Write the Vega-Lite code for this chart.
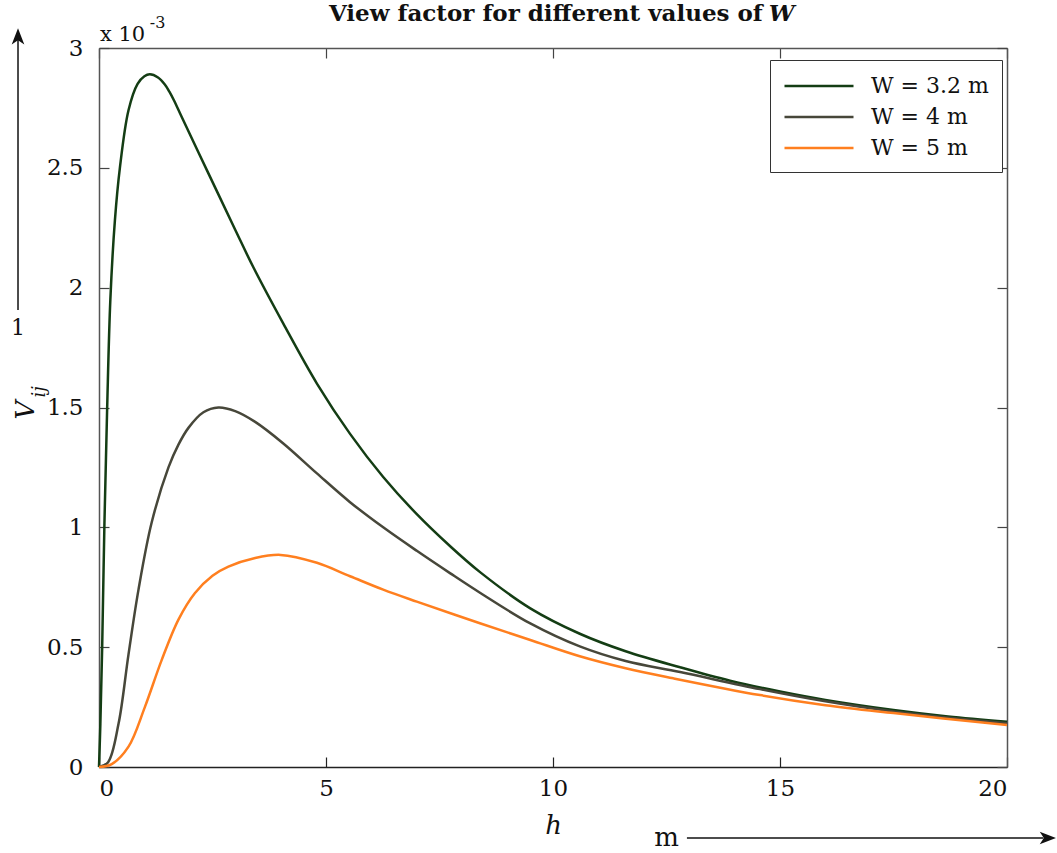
{
  "$schema": "https://vega.github.io/schema/vega-lite/v6.json",
  "width": 908,
  "height": 719,
  "autosize": "none",
  "padding": {"left": 99, "top": 48, "right": 50, "bottom": 86},
  "background": "white",
  "config": {
    "view": {"stroke": null},
    "font": "DejaVu Serif",
    "axis": {"grid": false, "labelFont": "DejaVu Serif", "labelFontSize": 23, "labelColor": "#111"}
  },
  "data": {
    "values": [
      {"W": "3.2", "h": 0, "V": 0},
      {"W": "3.2", "h": 0.03, "V": 0.00018},
      {"W": "3.2", "h": 0.07, "V": 0.0005},
      {"W": "3.2", "h": 0.12, "V": 0.00102},
      {"W": "3.2", "h": 0.18, "V": 0.0015},
      {"W": "3.2", "h": 0.25, "V": 0.00195},
      {"W": "3.2", "h": 0.35, "V": 0.00228},
      {"W": "3.2", "h": 0.46, "V": 0.0025},
      {"W": "3.2", "h": 0.65, "V": 0.00274},
      {"W": "3.2", "h": 0.85, "V": 0.00285},
      {"W": "3.2", "h": 1.0, "V": 0.002882},
      {"W": "3.2", "h": 1.12, "V": 0.00289},
      {"W": "3.2", "h": 1.3, "V": 0.002877},
      {"W": "3.2", "h": 1.45, "V": 0.002848},
      {"W": "3.2", "h": 1.55, "V": 0.002818},
      {"W": "3.2", "h": 1.65, "V": 0.002782},
      {"W": "3.2", "h": 1.82, "V": 0.002713},
      {"W": "3.2", "h": 2.41, "V": 0.002477},
      {"W": "3.2", "h": 3.0, "V": 0.002242},
      {"W": "3.2", "h": 3.4, "V": 0.002085},
      {"W": "3.2", "h": 4.06, "V": 0.00185},
      {"W": "3.2", "h": 4.8, "V": 0.0016},
      {"W": "3.2", "h": 5.53, "V": 0.00139},
      {"W": "3.2", "h": 6.26, "V": 0.00121},
      {"W": "3.2", "h": 7.0, "V": 0.001055},
      {"W": "3.2", "h": 7.73, "V": 0.000922},
      {"W": "3.2", "h": 8.4, "V": 0.000812},
      {"W": "3.2", "h": 9.5, "V": 0.000662},
      {"W": "3.2", "h": 10.59, "V": 0.000556},
      {"W": "3.2", "h": 11.6, "V": 0.000483},
      {"W": "3.2", "h": 12.8, "V": 0.000416},
      {"W": "3.2", "h": 13.9, "V": 0.00036},
      {"W": "3.2", "h": 15.0, "V": 0.000315},
      {"W": "3.2", "h": 16.0, "V": 0.00028},
      {"W": "3.2", "h": 17.5, "V": 0.000238},
      {"W": "3.2", "h": 18.7, "V": 0.000211},
      {"W": "3.2", "h": 20.0, "V": 0.000189},
      {"W": "4", "h": 0, "V": 0},
      {"W": "4", "h": 0.2, "V": 0.00002},
      {"W": "4", "h": 0.43, "V": 0.00018},
      {"W": "4", "h": 0.65, "V": 0.00047},
      {"W": "4", "h": 0.87, "V": 0.00074},
      {"W": "4", "h": 1.16, "V": 0.00102},
      {"W": "4", "h": 1.53, "V": 0.00125},
      {"W": "4", "h": 1.75, "V": 0.001345},
      {"W": "4", "h": 1.97, "V": 0.001415},
      {"W": "4", "h": 2.3, "V": 0.00148},
      {"W": "4", "h": 2.63, "V": 0.0015},
      {"W": "4", "h": 3.0, "V": 0.001485},
      {"W": "4", "h": 3.44, "V": 0.00144},
      {"W": "4", "h": 4.06, "V": 0.00135},
      {"W": "4", "h": 4.8, "V": 0.001225},
      {"W": "4", "h": 5.53, "V": 0.001105},
      {"W": "4", "h": 6.26, "V": 0.001},
      {"W": "4", "h": 7.0, "V": 0.000902},
      {"W": "4", "h": 7.73, "V": 0.000809},
      {"W": "4", "h": 8.4, "V": 0.000726},
      {"W": "4", "h": 9.5, "V": 0.000599},
      {"W": "4", "h": 10.59, "V": 0.000503},
      {"W": "4", "h": 11.6, "V": 0.000442},
      {"W": "4", "h": 12.8, "V": 0.000396},
      {"W": "4", "h": 14.56, "V": 0.000325},
      {"W": "4", "h": 16.0, "V": 0.000274},
      {"W": "4", "h": 17.5, "V": 0.000232},
      {"W": "4", "h": 20.0, "V": 0.000183},
      {"W": "5", "h": 0, "V": 0},
      {"W": "5", "h": 0.28, "V": 0.000012},
      {"W": "5", "h": 0.65, "V": 0.000085},
      {"W": "5", "h": 1.01, "V": 0.00025},
      {"W": "5", "h": 1.38, "V": 0.000446},
      {"W": "5", "h": 1.75, "V": 0.000615},
      {"W": "5", "h": 2.11, "V": 0.000725},
      {"W": "5", "h": 2.5, "V": 0.000798},
      {"W": "5", "h": 2.85, "V": 0.000836},
      {"W": "5", "h": 3.44, "V": 0.000872},
      {"W": "5", "h": 4.0, "V": 0.000885},
      {"W": "5", "h": 4.8, "V": 0.000852},
      {"W": "5", "h": 5.53, "V": 0.000796},
      {"W": "5", "h": 6.26, "V": 0.00074},
      {"W": "5", "h": 7.0, "V": 0.00069},
      {"W": "5", "h": 8.39, "V": 0.0006},
      {"W": "5", "h": 9.5, "V": 0.00053},
      {"W": "5", "h": 10.59, "V": 0.000462},
      {"W": "5", "h": 11.6, "V": 0.000412},
      {"W": "5", "h": 12.65, "V": 0.00037},
      {"W": "5", "h": 14.56, "V": 0.0003},
      {"W": "5", "h": 16.0, "V": 0.000258},
      {"W": "5", "h": 17.5, "V": 0.000225},
      {"W": "5", "h": 20.0, "V": 0.000175}
    ]
  },
  "layer": [
    {
      "mark": {"type": "line", "interpolate": "catmull-rom", "strokeWidth": 2.5},
      "encoding": {
        "x": {
          "field": "h", "type": "quantitative",
          "scale": {"domain": [0, 20], "nice": false},
          "axis": {
            "orient": "bottom", "values": [0, 5, 10, 15, 20],
            "tickSize": -10, "tickColor": "#222", "tickWidth": 1.2,
            "domainColor": "#222", "domainWidth": 1.5,
            "labelPadding": 20,
            "title": "h", "titleFont": "DejaVu Serif", "titleFontStyle": "italic",
            "titleFontWeight": "normal", "titleFontSize": 26, "titleColor": "#111",
            "titlePadding": 12
          }
        },
        "y": {
          "field": "V", "type": "quantitative",
          "scale": {"domain": [0, 0.003], "nice": false},
          "axis": {
            "orient": "left",
            "values": [0, 0.0005, 0.001, 0.0015, 0.002, 0.0025, 0.003],
            "labelExpr": "format(datum.value * 1000, '~g')",
            "tickSize": -10, "tickColor": "#444", "tickWidth": 1.2,
            "domainColor": "#555", "domainWidth": 1.5,
            "labelPadding": 26,
            "title": null
          }
        },
        "color": {
          "field": "W", "type": "nominal",
          "scale": {"domain": ["3.2", "4", "5"], "range": ["#143d14", "#47473a", "#ff7f1f"]},
          "legend": {
            "orient": "none", "legendX": 671, "legendY": 12,
            "title": null,
            "labelExpr": "'W = ' + datum.label + ' m'",
            "symbolType": "M-1,0H5", "symbolSize": 529, "symbolStrokeWidth": 2.5,
            "labelFont": "DejaVu Serif", "labelFontSize": 22, "labelColor": "#111",
            "labelOffset": 62,
            "strokeColor": "#333", "fillColor": "white",
            "padding": 13, "rowPadding": 7
          }
        }
      }
    },
    {
      "mark": {"type": "point", "opacity": 0},
      "encoding": {
        "x": {
          "field": "h", "type": "quantitative",
          "axis": {
            "orient": "top", "values": [0, 5, 10, 15, 20], "labels": false,
            "tickSize": -10, "tickColor": "#444", "tickWidth": 1.2,
            "domainColor": "#555", "domainWidth": 1.5, "title": null
          }
        },
        "y": {
          "field": "V", "type": "quantitative",
          "axis": {
            "orient": "right",
            "values": [0, 0.0005, 0.001, 0.0015, 0.002, 0.0025, 0.003],
            "labels": false,
            "tickSize": -10, "tickColor": "#444", "tickWidth": 1.2,
            "domainColor": "#555", "domainWidth": 1.5, "title": null
          }
        }
      }
    },
    {
      "data": {"values": [{"h": 14.62, "V": 0.003141, "label": "View factor for different values of"}]},
      "mark": {"type": "text", "align": "right", "baseline": "middle", "font": "DejaVu Serif", "fontWeight": "bold", "fontSize": 23, "color": "#111"},
      "encoding": {
        "x": {"field": "h", "type": "quantitative", "axis": null},
        "y": {"field": "V", "type": "quantitative", "axis": null},
        "text": {"field": "label"}
      }
    },
    {
      "data": {"values": [{"h": 14.75, "V": 0.003141, "label": "W"}]},
      "mark": {"type": "text", "align": "left", "baseline": "middle", "font": "DejaVu Serif", "fontWeight": "bold", "fontStyle": "italic", "fontSize": 23, "color": "#111"},
      "encoding": {
        "x": {"field": "h", "type": "quantitative", "axis": null},
        "y": {"field": "V", "type": "quantitative", "axis": null},
        "text": {"field": "label"}
      }
    },
    {
      "data": {"values": [{"h": 0.02, "V": 0.003054, "label": "x 10"}]},
      "mark": {"type": "text", "align": "left", "baseline": "middle", "font": "DejaVu Serif", "fontSize": 21, "color": "#111"},
      "encoding": {
        "x": {"field": "h", "type": "quantitative", "axis": null},
        "y": {"field": "V", "type": "quantitative", "axis": null},
        "text": {"field": "label"}
      }
    },
    {
      "data": {"values": [{"h": 1.12, "V": 0.003106, "label": "-3"}]},
      "mark": {"type": "text", "align": "left", "baseline": "middle", "font": "DejaVu Serif", "fontSize": 16, "color": "#111"},
      "encoding": {
        "x": {"field": "h", "type": "quantitative", "axis": null},
        "y": {"field": "V", "type": "quantitative", "axis": null},
        "text": {"field": "label"}
      }
    },
    {
      "data": {"values": [{"h": -1.608, "V": 0.001489, "label": "V"}]},
      "mark": {"type": "text", "align": "center", "baseline": "middle", "angle": 270, "font": "DejaVu Serif", "fontStyle": "italic", "fontSize": 26, "color": "#111"},
      "encoding": {
        "x": {"field": "h", "type": "quantitative", "axis": null},
        "y": {"field": "V", "type": "quantitative", "axis": null},
        "text": {"field": "label"}
      }
    },
    {
      "data": {"values": [{"h": -1.3, "V": 0.001565, "label": "ij"}]},
      "mark": {"type": "text", "align": "center", "baseline": "middle", "angle": 270, "font": "DejaVu Serif", "fontStyle": "italic", "fontSize": 18, "color": "#111"},
      "encoding": {
        "x": {"field": "h", "type": "quantitative", "axis": null},
        "y": {"field": "V", "type": "quantitative", "axis": null},
        "text": {"field": "label"}
      }
    },
    {
      "data": {"values": [{"h": -1.784, "V": 0.001907, "V2": 0.003035}]},
      "mark": {"type": "rule", "color": "#111", "strokeWidth": 1.5},
      "encoding": {
        "x": {"field": "h", "type": "quantitative", "axis": null},
        "y": {"field": "V", "type": "quantitative", "axis": null},
        "y2": {"field": "V2"}
      }
    },
    {
      "data": {"values": [{"h": -1.784, "V": 0.003045}]},
      "mark": {"type": "point", "shape": "M0,-1L0.7,0.8L0,0.35L-0.7,0.8Z", "size": 324, "filled": true, "color": "#111", "opacity": 1},
      "encoding": {
        "x": {"field": "h", "type": "quantitative", "axis": null},
        "y": {"field": "V", "type": "quantitative", "axis": null}
      }
    },
    {
      "data": {"values": [{"h": -1.784, "V": 0.001831, "label": "1"}]},
      "mark": {"type": "text", "align": "center", "baseline": "middle", "font": "DejaVu Serif", "fontSize": 22, "color": "#111"},
      "encoding": {
        "x": {"field": "h", "type": "quantitative", "axis": null},
        "y": {"field": "V", "type": "quantitative", "axis": null},
        "text": {"field": "label"}
      }
    },
    {
      "data": {"values": [{"h": 12.95, "h2": 20.8, "V": -0.000296}]},
      "mark": {"type": "rule", "color": "#111", "strokeWidth": 1.5},
      "encoding": {
        "x": {"field": "h", "type": "quantitative", "axis": null},
        "x2": {"field": "h2"},
        "y": {"field": "V", "type": "quantitative", "axis": null}
      }
    },
    {
      "data": {"values": [{"h": 20.88, "V": -0.000296}]},
      "mark": {"type": "point", "shape": "M1,0L-0.8,-0.7L-0.35,0L-0.8,0.7Z", "size": 324, "filled": true, "color": "#111", "opacity": 1},
      "encoding": {
        "x": {"field": "h", "type": "quantitative", "axis": null},
        "y": {"field": "V", "type": "quantitative", "axis": null}
      }
    },
    {
      "data": {"values": [{"h": 12.5, "V": -0.000296, "label": "m"}]},
      "mark": {"type": "text", "align": "center", "baseline": "middle", "font": "DejaVu Serif", "fontSize": 26, "color": "#111"},
      "encoding": {
        "x": {"field": "h", "type": "quantitative", "axis": null},
        "y": {"field": "V", "type": "quantitative", "axis": null},
        "text": {"field": "label"}
      }
    }
  ],
  "resolve": {"axis": {"x": "independent", "y": "independent"}}
}
